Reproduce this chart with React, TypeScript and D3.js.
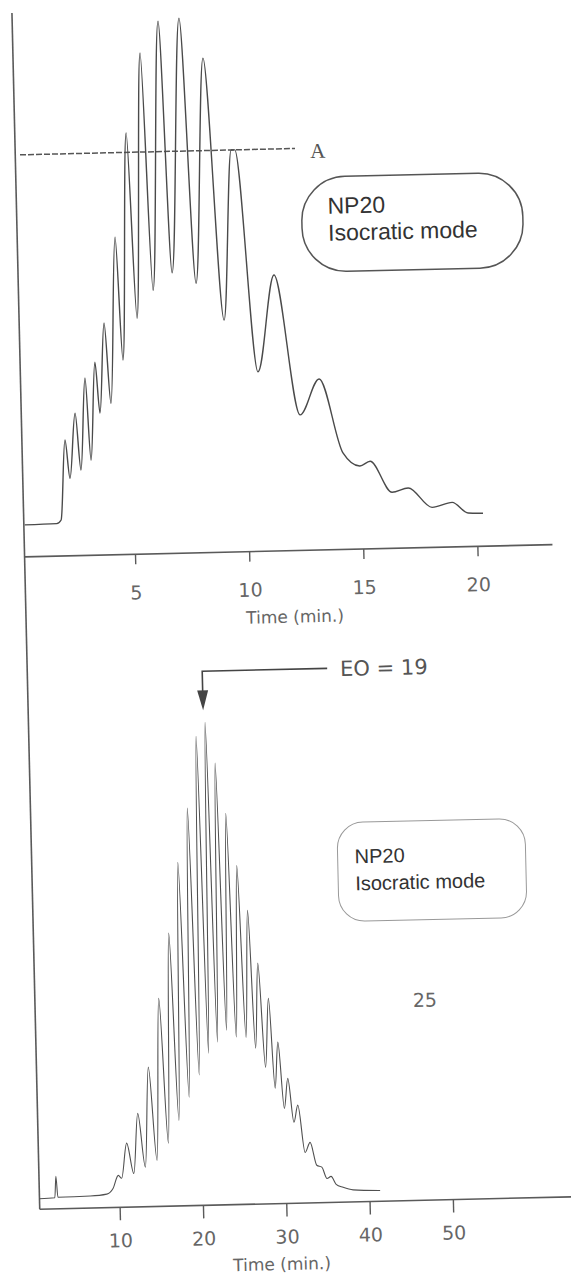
import { useEffect, useRef } from 'react';
import * as d3 from 'd3';

// Upper chromatogram: NP20, isocratic mode (time in min, signal in arbitrary units)
const topTime = [0.2, 1.6, 1.8, 2.05, 2.23, 2.52, 2.72, 2.99, 3.17, 3.44, 3.61, 3.88, 4.1, 4.45, 4.67, 5.04, 5.33, 5.73, 6.06, 6.55, 6.91, 7.47, 7.95, 8.48, 9.14, 9.62, 9.78, 10.57, 11.37, 12.37, 13.24, 14.21, 14.94, 15.39, 16.32, 17.03, 18.06, 18.94, 19.63, 20.28];
const topSignal = [0, 0.1, 0.8, 16.8, 9.1, 22.1, 10.7, 29.1, 12.6, 32.2, 22.0, 40.0, 23.9, 57.1, 32.5, 77.9, 40.8, 93.8, 46.3, 100.1, 49.7, 100.6, 47.5, 92.5, 40.0, 74, 74, 29.5, 48.8, 20.7, 27.8, 12.9, 10.2, 11.1, 4.8, 5.6, 1.6, 2.5, 0.3, 0.2];
const topTicks = [5, 10, 15, 20];
const levelA = 74; // dashed line "A"
const levelAStart = 0.37;
const levelAEnd = 12.42;

// Lower chromatogram: oligomer peaks resolved, EO = 19 marked
const botTime = [0.4, 2.25, 2.44, 2.62, 6.5, 8.5, 9.26, 9.93, 10.32,
  11.02, 11.8, 12.43, 13.2, 13.83, 14.62, 15.27, 16.03, 16.65, 17.36, 17.94, 18.65, 19.23, 19.92,
  20.48, 21.1, 21.6, 22.2, 22.69, 23.32, 23.83, 24.47, 25.0, 25.64, 26.17, 26.76, 27.25, 27.9,
  28.43, 28.99, 29.44, 30.04, 30.53, 31.15, 31.66, 32.41, 33.03, 33.77, 34.37, 34.96, 35.45,
  36.04, 36.87, 38.06, 41.3];
const botSignal = [0, 0.1, 4.4, 0.2, 0.3, 0.6, 1.7, 4.3, 3.7,
  10.7, 4.6, 16.6, 5.8, 25.8, 7.1, 39.5, 10.5, 52.5, 15.0, 66.6, 19.6, 77.4, 24.0,
  91.7, 28.3, 94.5, 30.5, 86.3, 32.8, 76.2, 31.4, 65.7, 31.3, 56.7, 29.1, 46.1, 25.2,
  39.0, 21.0, 30.2, 16.9, 22.9, 14.1, 17.5, 8.0, 10.0, 5.4, 5.0, 2.7, 3.1,
  1.5, 0.86, 0.3, 0.06];
const botTicks = [10, 20, 30, 40, 50];
const eoTime = 21.4;
const eoLabel = 'EO = 19';

const W = 571;
const H = 1280;
const SKEW = -1.33; // the scanned page is slightly rotated

export default function App() {
  const ref = useRef<SVGSVGElement>(null);

  useEffect(() => {
    if (!ref.current) return;
    const svg = d3.select(ref.current);
    svg.selectAll('*').remove();

    const g = svg.append('g').attr('transform', `rotate(${SKEW},12,15)`);

    const xTop = d3.scaleLinear().domain([0, 23]).range([8.3, 8.3 + 22.83 * 23]);
    const yTop = d3.scaleLinear().domain([0, 100]).range([525, 25]);
    const xBot = d3.scaleLinear().domain([0, 64]).range([8.6, 8.6 + 8.333 * 64]);
    const yBot = d3.scaleLinear().domain([0, 100]).range([1199, 699]);

    const axisColor = '#5a5a5a';
    const labelFont = '"DejaVu Sans", sans-serif';

    // shared y axis line (one long line through both panels)
    g.append('line')
      .attr('x1', 12).attr('x2', 12)
      .attr('y1', 13).attr('y2', 1209.5)
      .attr('stroke', axisColor).attr('stroke-width', 1.6);

    // ---- top panel ----
    const topAxisY = 557;
    g.append('line')
      .attr('x1', 12).attr('x2', 540)
      .attr('y1', topAxisY).attr('y2', topAxisY)
      .attr('stroke', axisColor).attr('stroke-width', 1.6);

    const axTop = g.append('g')
      .attr('transform', `translate(0,${topAxisY})`)
      .call(d3.axisBottom(xTop).tickValues(topTicks).tickSize(10).tickFormat(d3.format('d')));
    axTop.select('.domain').remove();
    axTop.selectAll('line').attr('stroke', axisColor).attr('stroke-width', 1.4);
    axTop.selectAll('text')
      .attr('y', 45).attr('dy', 0)
      .attr('fill', '#666')
      .style('font', `19px ${labelFont}`);

    g.append('text')
      .attr('x', 281).attr('y', 629)
      .attr('text-anchor', 'middle')
      .attr('fill', '#666')
      .style('font', `17px ${labelFont}`)
      .text('Time (min.)');

    // dashed level A
    g.append('line')
      .attr('x1', xTop(levelAStart)).attr('x2', xTop(levelAEnd))
      .attr('y1', yTop(levelA)).attr('y2', yTop(levelA))
      .attr('stroke', '#555').attr('stroke-width', 1.5)
      .attr('stroke-dasharray', '6,2');
    g.append('text')
      .attr('x', xTop(levelAEnd) + 15).attr('y', yTop(levelA) + 10)
      .attr('fill', '#555')
      .style('font', '21px "Liberation Serif", serif')
      .text('A');

    const lineTop = d3.line<number>()
      .x((d, i) => xTop(topTime[i]))
      .y(d => yTop(d))
      .curve(d3.curveMonotoneX);
    g.append('path')
      .attr('d', lineTop(topSignal))
      .attr('fill', 'none')
      .attr('stroke', '#4a4a4a')
      .attr('stroke-width', 1.4);

    // label box
    g.append('rect')
      .attr('x', 297).attr('y', 184).attr('width', 221).attr('height', 95)
      .attr('rx', 44).attr('ry', 44)
      .attr('fill', 'none').attr('stroke', '#555').attr('stroke-width', 1.5);
    const t1 = g.append('text')
      .attr('fill', '#333')
      .style('font', '23px "Liberation Sans", Arial, sans-serif');
    t1.append('tspan').attr('x', 323).attr('y', 221).text('NP20');
    t1.append('tspan').attr('x', 323).attr('y', 248).text('Isocratic mode');

    // ---- bottom panel ----
    const botAxisY = 1209.5;
    g.append('line')
      .attr('x1', 12).attr('x2', 560)
      .attr('y1', botAxisY).attr('y2', botAxisY)
      .attr('stroke', axisColor).attr('stroke-width', 1.6);

    const axBot = g.append('g')
      .attr('transform', `translate(0,${botAxisY})`)
      .call(d3.axisBottom(xBot).tickValues(botTicks).tickSize(13).tickFormat(d3.format('d')));
    axBot.select('.domain').remove();
    axBot.selectAll('line').attr('stroke', axisColor).attr('stroke-width', 1.4);
    axBot.selectAll('text')
      .attr('y', 40).attr('dy', 0)
      .attr('fill', '#666')
      .style('font', `19px ${labelFont}`);

    g.append('text')
      .attr('x', 253).attr('y', 1276)
      .attr('text-anchor', 'middle')
      .attr('fill', '#666')
      .style('font', `17px ${labelFont}`)
      .text('Time (min.)');

    const lineBot = d3.line<number>()
      .x((d, i) => xBot(botTime[i]))
      .y(d => yBot(d))
      .curve(d3.curveMonotoneX);
    g.append('path')
      .attr('d', lineBot(botSignal))
      .attr('fill', 'none')
      .attr('stroke', '#505050')
      .attr('stroke-width', 1.1);

    // EO = 19 arrow
    const ax = xBot(eoTime);
    const aTop = yBot(104.7);
    const aTip = yBot(96.9);
    g.append('path')
      .attr('d', `M${xBot(36.4)},${aTop}H${ax}V${aTip - 16}`)
      .attr('fill', 'none').attr('stroke', '#444').attr('stroke-width', 1.6);
    g.append('path')
      .attr('d', `M${ax - 5.5},${aTip - 20}L${ax + 5.5},${aTip - 20}L${ax},${aTip}Z`)
      .attr('fill', '#444');
    g.append('text')
      .attr('x', xBot(37.96)).attr('y', aTop + 8)
      .attr('fill', '#555')
      .style('font', `21px ${labelFont}`)
      .text(eoLabel);

    g.append('rect')
      .attr('x', 318).attr('y', 830).attr('width', 188).attr('height', 99)
      .attr('rx', 26).attr('ry', 26)
      .attr('fill', 'none').attr('stroke', '#999').attr('stroke-width', 1);
    const t2 = g.append('text')
      .attr('fill', '#333')
      .style('font', '20px "Liberation Sans", Arial, sans-serif');
    t2.append('tspan').attr('x', 335).attr('y', 871).text('NP20');
    t2.append('tspan').attr('x', 335).attr('y', 898).text('Isocratic mode');

    g.append('text')
      .attr('x', 402).attr('y', 1016)
      .attr('text-anchor', 'middle')
      .attr('fill', '#666')
      .style('font', `19px ${labelFont}`)
      .text('25');
  }, []);

  return (
    <svg
      ref={ref}
      width={W}
      height={H}
      style={{ position: 'absolute', left: 0, top: 0, background: '#fff' }}
    />
  );
}
